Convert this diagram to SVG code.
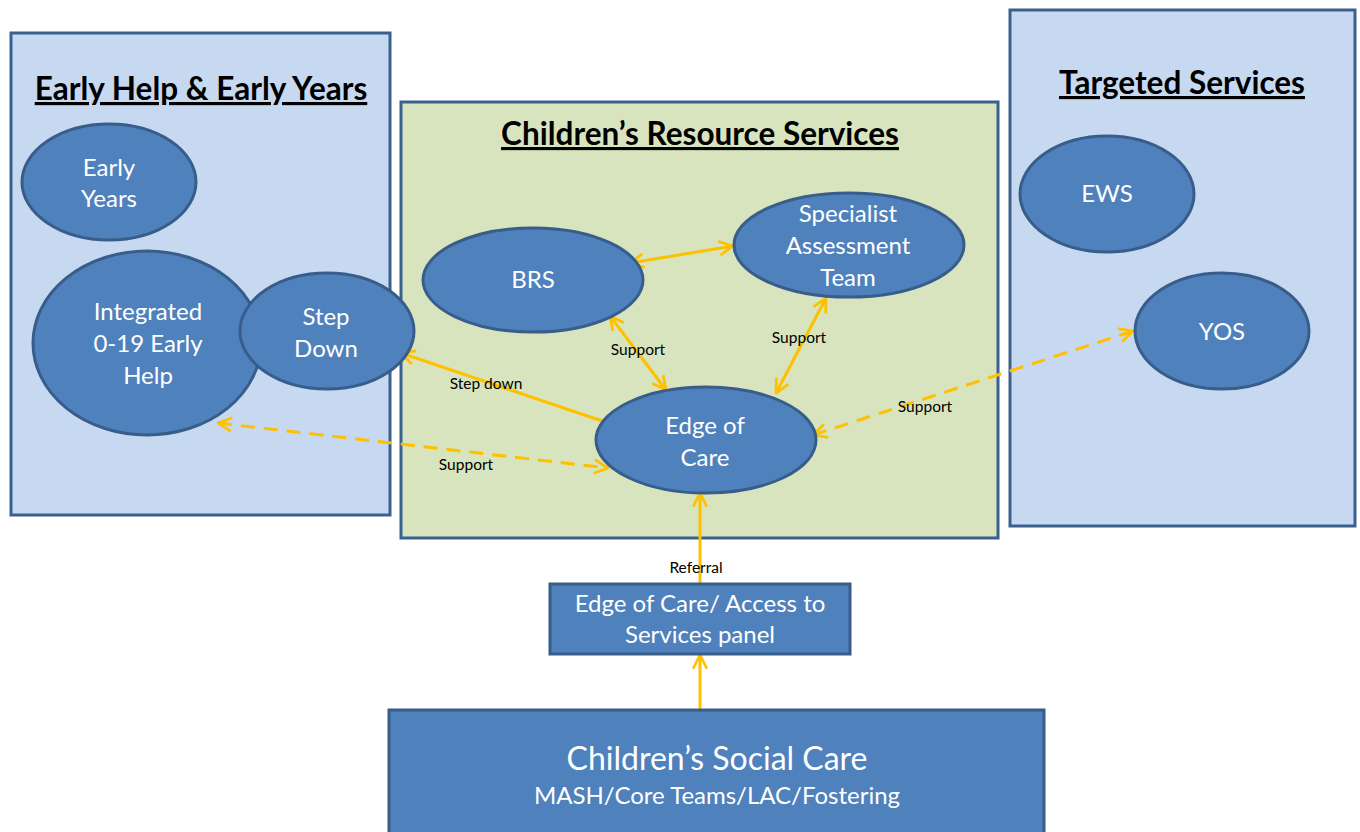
<svg xmlns="http://www.w3.org/2000/svg" width="1360" height="832" viewBox="0 0 1360 832">
  <defs>
    <style>
      .panel-blue { fill: #c6d9f0; stroke: #3b6090; stroke-width: 3; }
      .panel-green { fill: #d7e4bd; stroke: #3b6090; stroke-width: 3; }
      .node { fill: #4f81bd; stroke: #385d8a; stroke-width: 3; }
      .title { font-family: Lato, "Liberation Sans", sans-serif; font-weight: bold; font-size: 31.5px; fill: #000; text-anchor: middle; text-decoration: underline; }
      .ntext { font-family: Lato, "Liberation Sans", sans-serif; font-size: 24px; fill: #fff; text-anchor: middle; }
      .lbl { font-family: Lato, "Liberation Sans", sans-serif; font-size: 15.5px; fill: #000; text-anchor: middle; }
      .conn { fill: none; stroke: #ffc000; stroke-width: 3; }
      .dash { stroke-dasharray: 14 9; }
    </style>
    <marker id="chev" viewBox="0 0 12 12" refX="11" refY="6" markerWidth="5.5" markerHeight="5.5" markerUnits="strokeWidth" orient="auto-start-reverse">
      <path d="M1,1 L11,6 L1,11" fill="none" stroke="#ffc000" stroke-width="2"/>
    </marker>
  </defs>

  <!-- Service area panels -->
  <g id="panel-early-help">
    <rect class="panel-blue" x="11" y="33" width="379" height="482"/>
    <text class="title" x="201" y="100">Early Help &amp; Early Years</text>
  </g>
  <g id="panel-resource">
    <rect class="panel-green" x="401" y="102" width="597" height="436"/>
    <text class="title" x="700" y="145">Children’s Resource Services</text>
  </g>
  <g id="panel-targeted">
    <rect class="panel-blue" x="1010" y="10" width="345" height="516"/>
    <text class="title" x="1182" y="94">Targeted Services</text>
  </g>

  <!-- Connectors -->
  <g id="connectors">
    <line class="conn" x1="630" y1="263" x2="733" y2="246" marker-start="url(#chev)" marker-end="url(#chev)"/>
    <line class="conn" x1="610" y1="316" x2="666" y2="390" marker-start="url(#chev)" marker-end="url(#chev)"/>
    <line class="conn" x1="826" y1="298" x2="776" y2="393" marker-start="url(#chev)" marker-end="url(#chev)"/>
    <line class="conn" x1="608" y1="423" x2="401" y2="353" marker-end="url(#chev)"/>
    <line class="conn dash" x1="218" y1="423" x2="608" y2="468" marker-start="url(#chev)" marker-end="url(#chev)"/>
    <line class="conn dash" x1="813" y1="435" x2="1133" y2="331" marker-start="url(#chev)" marker-end="url(#chev)"/>
    <line class="conn" x1="700" y1="584" x2="700" y2="493" marker-end="url(#chev)"/>
    <line class="conn" x1="700" y1="710" x2="700" y2="655" marker-end="url(#chev)"/>
    <text class="lbl" x="638" y="355">Support</text>
    <text class="lbl" x="799" y="343">Support</text>
    <text class="lbl" x="486" y="389">Step down</text>
    <text class="lbl" x="466" y="470">Support</text>
    <text class="lbl" x="925" y="412">Support</text>
    <text class="lbl" x="696" y="573">Referral</text>
  </g>

  <!-- Nodes -->
  <g id="early-years">
    <ellipse class="node" cx="109" cy="182" rx="87" ry="58"/>
    <text class="ntext" x="109" y="176">Early</text>
    <text class="ntext" x="109" y="207">Years</text>
  </g>
  <g id="integrated-early-help">
    <ellipse class="node" cx="147" cy="343" rx="114" ry="92"/>
    <text class="ntext" x="148" y="320">Integrated</text>
    <text class="ntext" x="148" y="352">0-19 Early</text>
    <text class="ntext" x="148" y="384">Help</text>
  </g>
  <g id="step-down">
    <ellipse class="node" cx="327" cy="331" rx="87" ry="58"/>
    <text class="ntext" x="326" y="325">Step</text>
    <text class="ntext" x="326" y="357">Down</text>
  </g>
  <g id="brs">
    <ellipse class="node" cx="533" cy="280" rx="110" ry="52"/>
    <text class="ntext" x="533" y="288">BRS</text>
  </g>
  <g id="specialist-assessment">
    <ellipse class="node" cx="849" cy="245" rx="115" ry="52"/>
    <text class="ntext" x="848" y="222">Specialist</text>
    <text class="ntext" x="848" y="254">Assessment</text>
    <text class="ntext" x="848" y="286">Team</text>
  </g>
  <g id="edge-of-care">
    <ellipse class="node" cx="706" cy="440" rx="110" ry="53"/>
    <text class="ntext" x="705" y="434">Edge of</text>
    <text class="ntext" x="705" y="466">Care</text>
  </g>
  <g id="ews">
    <ellipse class="node" cx="1107" cy="194" rx="87" ry="58"/>
    <text class="ntext" x="1107" y="202">EWS</text>
  </g>
  <g id="yos">
    <ellipse class="node" cx="1222" cy="331" rx="87" ry="58"/>
    <text class="ntext" x="1222" y="340">YOS</text>
  </g>
  <g id="access-panel">
    <rect class="node" x="550" y="584" width="300" height="70"/>
    <text class="ntext" x="700" y="612">Edge of Care/ Access to</text>
    <text class="ntext" x="700" y="643">Services panel</text>
  </g>
  <g id="social-care">
    <rect class="node" x="389" y="710" width="655" height="130"/>
    <text class="ntext" x="717" y="770" style="font-size:32px">Children’s Social Care</text>
    <text class="ntext" x="717" y="804">MASH/Core Teams/LAC/Fostering</text>
  </g>
</svg>
